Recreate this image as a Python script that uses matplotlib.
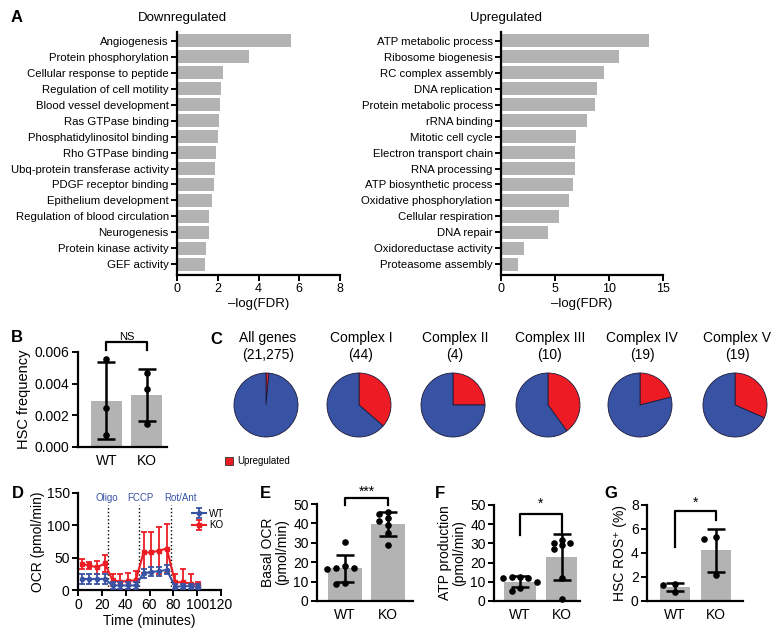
import numpy as np
import matplotlib
matplotlib.use('Agg')
import matplotlib.pyplot as plt
from matplotlib.patches import Rectangle

plt.rcParams['font.family'] = ['Liberation Sans', 'DejaVu Sans']

# ---- data ----
down_terms = ['Angiogenesis', 'Protein phosphorylation', 'Cellular response to peptide',
              'Regulation of cell motility', 'Blood vessel development', 'Ras GTPase binding',
              'Phosphatidylinositol binding', 'Rho GTPase binding', 'Ubq-protein transferase activity',
              'PDGF receptor binding', 'Epithelium development', 'Regulation of blood circulation',
              'Neurogenesis', 'Protein kinase activity', 'GEF activity']
down_vals = [5.6, 3.53, 2.24, 2.14, 2.1, 2.06, 2.02, 1.91, 1.86, 1.81, 1.73, 1.58, 1.55, 1.40, 1.39]

up_terms = ['ATP metabolic process', 'Ribosome biogenesis', 'RC complex assembly', 'DNA replication',
            'Protein metabolic process', 'rRNA binding', 'Mitotic cell cycle', 'Electron transport chain',
            'RNA processing', 'ATP biosynthetic process', 'Oxidative phosphorylation',
            'Cellular respiration', 'DNA repair', 'Oxidoreductase activity', 'Proteasome assembly']
up_vals = [13.67, 10.95, 9.56, 8.85, 8.66, 7.95, 6.9, 6.87, 6.84, 6.68, 6.31, 5.41, 4.33, 2.1, 1.55]

groups = ['WT', 'KO']
hsc_wt = [0.00558, 0.00248, 0.00074]
hsc_ko = [0.0047, 0.00366, 0.00147]

pie_names = ['All genes', 'Complex I', 'Complex II', 'Complex III', 'Complex IV', 'Complex V']
pie_totals = [21275, 44, 4, 10, 19, 19]
pie_up = [320, 16, 1, 4, 4, 6]

ocr_time = [3, 9.5, 16, 22.5, 29, 35.5, 42, 48.5, 55, 61.5, 68, 74.5, 81.5, 88, 94.5, 101]
ocr_wt = [17, 17, 17, 17, 7, 7, 7, 7, 26, 28, 29, 31, 5, 6, 6, 5]
ocr_wt_sd = [8, 8, 8, 8, 5, 5, 5, 5, 7, 7, 7, 7, 4, 4, 4, 4]
ocr_ko = [40, 38, 35, 41, 15, 13, 14, 15, 58, 58, 61, 64, 12, 12, 10, 8]
ocr_ko_sd = [8, 6, 10, 13, 9, 12, 13, 14, 31, 31, 36, 38, 12, 21, 15, 5]
inject_time = [25, 51.5, 78]
inject_names = ['Oligo', 'FCCP', 'Rot/Ant']

basal_wt = [30.5, 18, 17, 17, 16.5, 9.5, 9]
basal_ko = [46, 45, 43, 41, 39, 35, 29]
atp_wt = [12.5, 12.5, 12, 12, 10, 7, 5]
atp_ko = [32, 30, 30, 29, 27, 12, 1]
ros_wt = [1.45, 1.3, 0.75]
ros_ko = [5.3, 5.2, 2.15]

GRAY = '#b3b3b3'
BLUE = '#3953a4'
RED = '#ed1c24'

W, H = 784, 633
fig = plt.figure(figsize=(W / 100, H / 100), dpi=100)


def box(x0, y0, x1, y1):
    return fig.add_axes([x0 / W, 1 - y1 / H, (x1 - x0) / W, (y1 - y0) / H])


def ftext(x, y, s, **kw):
    fig.text(x / W, 1 - y / H, s, **kw)


def style(ax, fs):
    for side in ['top', 'right']:
        ax.spines[side].set_visible(False)
    for side in ['left', 'bottom']:
        ax.spines[side].set_linewidth(1.6)
    ax.tick_params(width=1.4, length=4, labelsize=fs, pad=2)


# ---- A ----
def go_bars(ax, terms, vals, xmax, step):
    y = np.arange(len(terms))
    ax.barh(y, vals, height=0.84, color=GRAY)
    ax.set_yticks(y)
    ax.set_yticklabels(terms)
    ax.set_ylim(len(terms) - 1 + 0.67, -0.55)
    ax.set_xlim(0, xmax)
    ax.set_xticks(np.arange(0, xmax + 1, step))
    style(ax, 8.2)
    ax.tick_params(axis='x', labelsize=9)
    ax.set_xlabel('–log(FDR)', fontsize=9.5, labelpad=2)


axl = box(177, 32, 340, 275)
go_bars(axl, down_terms, down_vals, 8, 2)
axr = box(501, 32, 663, 275)
go_bars(axr, up_terms, up_vals, 15, 5)
ftext(182, 18, 'Downregulated', fontsize=9.5, ha='center', va='center')
ftext(506, 18, 'Upregulated', fontsize=9.5, ha='center', va='center')


# ---- dot + bar panels ----
def swarm(vals, tol, d):
    offs = []
    placed = []
    for v in vals:
        k = 0
        cands = [0]
        for i in range(1, 6):
            cands += [-i * d, i * d]
        for c in cands:
            if all(abs(c - pc) > d * 0.9 or abs(v - pv) > tol for pc, pv in placed):
                k = c
                break
        placed.append((k, v))
        offs.append(k)
    return offs


def dot_bar(ax, data, ymax, yticks, width, d, fs=10):
    for i, vals in enumerate(data):
        vals = np.array(vals)
        m = vals.mean()
        s = vals.std(ddof=1)
        ax.bar(i, m, width=width, color=GRAY, zorder=1)
        offs = swarm(vals, 0.05 * ymax, d) if d > 0 else [0] * len(vals)
        ax.scatter(i + np.array(offs), vals, s=14, color='black', zorder=3, clip_on=False)
        ax.errorbar(i, m, yerr=s, color='black', lw=0, elinewidth=1.8, capsize=6.5,
                    capthick=1.8, zorder=4)
    ax.set_ylim(0, ymax)
    ax.set_yticks(yticks)
    ax.set_xticks(range(len(data)))
    ax.set_xticklabels(groups)
    style(ax, fs)
    ax.tick_params(axis='x', length=0, pad=5)


def bracket(ax, top, left_low, right_low, label, ty, fs=9):
    ax.plot([0, 0, 1, 1], [left_low, top, top, right_low], color='black', lw=1.6, clip_on=False)
    ax.text(0.5, ty, label, ha='center', va='center', fontsize=fs)


# B
axb = box(78, 352, 167, 447)
dot_bar(axb, [hsc_wt, hsc_ko], 0.006, [0, 0.002, 0.004, 0.006], 0.76, 0)
axb.set_xlim(-0.7, 1.5)
axb.set_yticklabels(['0.000', '0.002', '0.004', '0.006'])
axb.set_ylabel('HSC frequency', fontsize=10.5, labelpad=3)
bracket(axb, 0.00663, 0.00612, 0.00612, 'NS', 0.00695, fs=8)

# E
axe = box(317, 504, 413, 601)
dot_bar(axe, [basal_wt, basal_ko], 50, range(0, 51, 10), 0.77, 0.21)
axe.set_xlim(-0.65, 1.58)
axe.set_ylabel('Basal OCR\n(pmol/min)', fontsize=10, labelpad=3, linespacing=1.0)
bracket(axe, 53.1, 49.5, 49.5, '***', 56.5, fs=10)

# F
axf = box(494, 505, 580, 601)
dot_bar(axf, [atp_wt, atp_ko], 50, range(0, 51, 10), 0.74, 0.2)
axf.set_xlim(-0.62, 1.43)
axf.set_ylabel('ATP production\n(pmol/min)', fontsize=10, labelpad=3, linespacing=1.0)
bracket(axf, 45.3, 34.4, 34.4, '*', 50.5, fs=10)

# G
axg = box(647, 505, 743, 601)
dot_bar(axg, [ros_wt, ros_ko], 8, range(0, 9, 2), 0.74, 0.3)
axg.set_xlim(-0.68, 1.66)
axg.set_ylabel('HSC ROS⁺ (%)', fontsize=10, labelpad=3)
bracket(axg, 7.5, 4.5, 6.75, '*', 8.2, fs=10)

# ---- C ----
pie_x = [266, 359, 453, 548, 640, 735]
for cx, name, tot, up in zip(pie_x, pie_names, pie_totals, pie_up):
    ax = box(cx - 40, 365, cx + 40, 445)
    ax.pie([up, tot - up], colors=[RED, BLUE], startangle=90, counterclock=False,
           wedgeprops=dict(edgecolor='#1a1a3a', linewidth=0.6))
    ax.set_aspect('equal')
    ftext(cx + 2, 338, name, fontsize=10, ha='center', va='center')
    ftext(cx + 2, 355, '({:,})'.format(tot), fontsize=10, ha='center', va='center')
fig.patches.append(Rectangle((225 / W, 1 - 465 / H), 8 / W, 8 / H, transform=fig.transFigure,
                             facecolor=RED, edgecolor='#333333', linewidth=0.6))
ftext(237, 461, 'Upregulated', fontsize=7, ha='left', va='center')

# ---- D ----
axd = box(78, 493, 221, 590)
axd.errorbar(ocr_time, ocr_wt, yerr=ocr_wt_sd, color=BLUE, marker='o', ms=3, lw=1.5,
             elinewidth=1.3, capsize=2.5, capthick=1.3, label='WT', zorder=3)
axd.errorbar(ocr_time, ocr_ko, yerr=ocr_ko_sd, color=RED, marker='s', ms=3, lw=1.5,
             elinewidth=1.3, capsize=2.5, capthick=1.3, label='KO', zorder=2)
for t, name in zip(inject_time, inject_names):
    axd.plot([t, t], [0, 132], color='black', lw=1.0, ls=':', zorder=1)
axd.text(24.5, 142, 'Oligo', color=BLUE, fontsize=7, ha='center', va='center')
axd.text(52, 142, 'FCCP', color=BLUE, fontsize=7, ha='center', va='center')
axd.text(86, 142, 'Rot/Ant', color=BLUE, fontsize=7, ha='center', va='center')
axd.set_xlim(0, 120)
axd.set_ylim(0, 150)
axd.set_xticks(range(0, 121, 20))
axd.set_yticks([0, 50, 100, 150])
style(axd, 10)
axd.set_xlabel('Time (minutes)', fontsize=10, labelpad=1)
axd.set_ylabel('OCR (pmol/min)', fontsize=10, labelpad=1)
axd.legend(loc='upper right', bbox_to_anchor=(1.05, 0.88), frameon=False, fontsize=7,
           handlelength=1.5, handletextpad=0.3, borderaxespad=0, labelspacing=0.2)

# ---- panel letters ----
for lab, x, y in [('A', 17, 17), ('B', 17, 337), ('C', 216, 339), ('D', 18, 494),
                  ('E', 265, 493), ('F', 440, 493), ('G', 611, 494)]:
    ftext(x, y, lab, fontsize=12, fontweight='bold', ha='center', va='center')

fig.savefig('out.png', dpi=100)
